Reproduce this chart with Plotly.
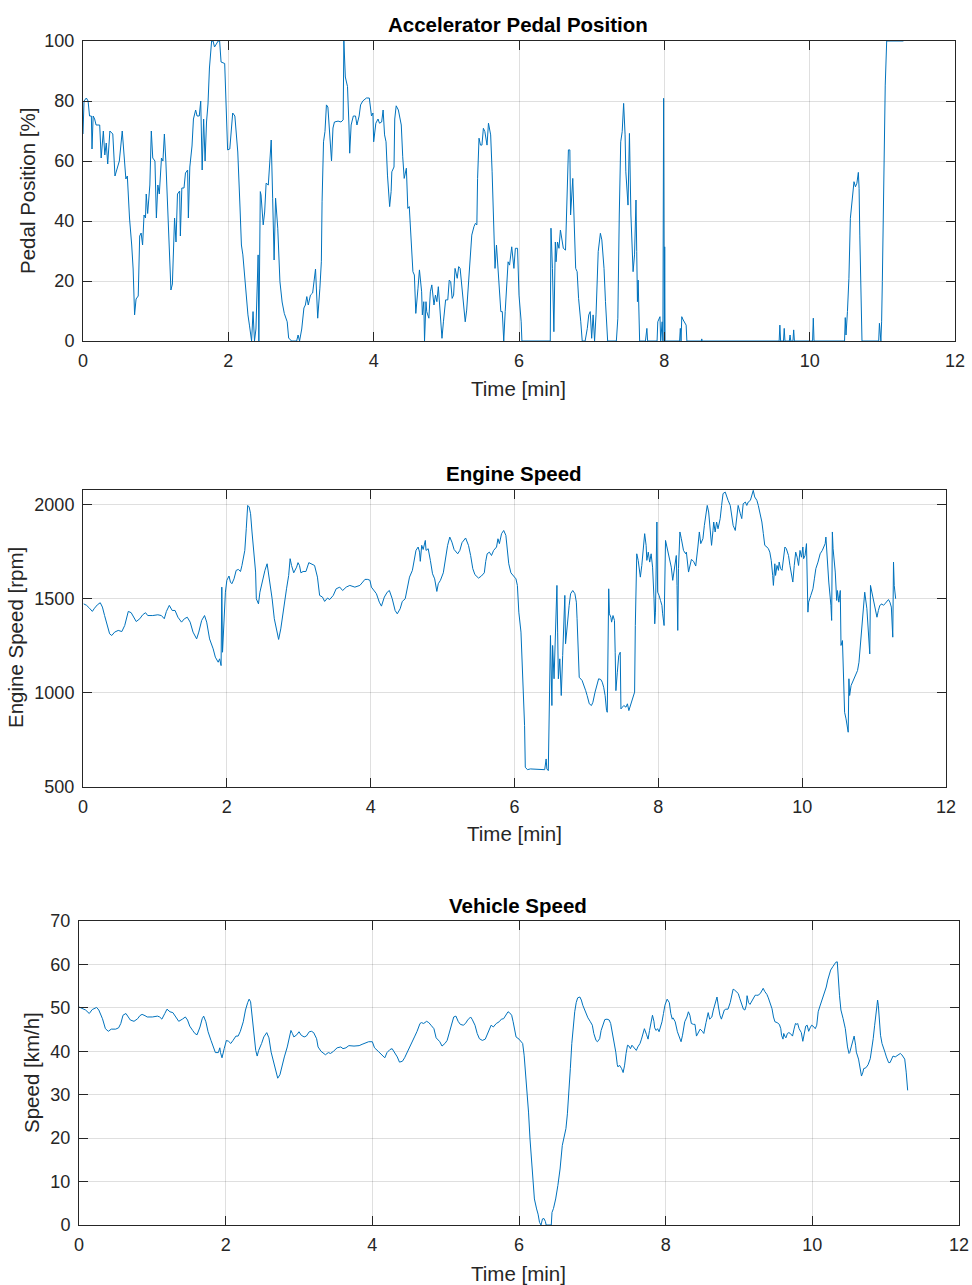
import plotly.graph_objects as go

# ---------------- data ----------------
pedal_t = [0.00,0.014,0.046,0.07,0.09,0.115,0.124,0.14,0.16,0.18,0.23,0.25,0.28,0.30,0.32,0.34,0.37,0.41,0.44,0.46,0.50,0.54,0.56,0.59,0.61,0.64,0.67,0.69,0.71,0.73,0.76,0.78,0.80,0.82,0.84,0.86,0.87,0.89,0.92,0.94,0.96,0.99,1.01,1.03,1.05,1.08,1.10,1.12,1.14,1.16,1.18,1.21,1.23,1.26,1.28,1.30,1.33,1.34,1.36,1.39,1.41,1.44,1.45,1.47,1.50,1.52,1.55,1.57,1.60,1.62,1.64,1.66,1.68,1.70,1.72,1.74,1.77,1.79,1.81,1.83,1.86,1.88,1.90,1.95,1.99,2.02,2.04,2.06,2.09,2.11,2.13,2.16,2.18,2.20,2.22,2.25,2.27,2.29,2.32,2.34,2.36,2.38,2.41,2.42,2.44,2.45,2.48,2.50,2.52,2.55,2.57,2.59,2.61,2.63,2.65,2.67,2.68,2.71,2.74,2.77,2.81,2.83,2.87,2.94,2.96,2.98,3.01,3.04,3.06,3.08,3.10,3.13,3.16,3.20,3.22,3.23,3.26,3.28,3.29,3.31,3.33,3.35,3.37,3.39,3.42,3.44,3.46,3.51,3.55,3.58,3.59,3.61,3.64,3.66,3.67,3.69,3.72,3.75,3.77,3.80,3.82,3.85,3.90,3.94,3.97,3.99,4.00,4.03,4.06,4.08,4.11,4.13,4.15,4.17,4.19,4.22,4.24,4.25,4.28,4.29,4.31,4.34,4.36,4.38,4.40,4.42,4.45,4.47,4.49,4.51,4.54,4.56,4.58,4.61,4.63,4.66,4.67,4.69,4.70,4.72,4.73,4.76,4.78,4.80,4.83,4.85,4.87,4.89,4.92,4.94,4.96,4.99,5.02,5.04,5.06,5.08,5.10,5.12,5.15,5.17,5.19,5.22,5.24,5.26,5.28,5.31,5.33,5.35,5.38,5.40,5.42,5.43,5.45,5.47,5.49,5.51,5.53,5.56,5.58,5.61,5.63,5.65,5.67,5.69,5.71,5.73,5.75,5.77,5.79,5.81,5.83,5.85,5.87,5.90,5.93,5.95,5.98,6.00,6.03,6.04,6.43,6.44,6.46,6.48,6.50,6.51,6.53,6.55,6.57,6.61,6.64,6.66,6.68,6.70,6.71,6.74,6.76,6.78,6.80,6.82,6.85,6.87,6.91,6.94,6.96,6.98,7.00,7.02,7.04,7.06,7.09,7.12,7.14,7.17,7.19,7.21,7.22,7.34,7.36,7.38,7.40,7.42,7.44,7.46,7.47,7.50,7.51,7.52,7.54,7.57,7.59,7.61,7.62,7.63,7.64,7.66,7.74,7.76,7.77,7.90,7.91,7.94,7.95,7.97,7.98,7.99,8.00,8.005,8.01,8.21,8.22,8.23,8.24,8.26,8.28,8.30,8.31,8.51,8.515,8.52,9.58,9.59,9.60,9.64,9.65,9.66,9.72,9.73,9.74,9.77,9.78,9.79,10.04,10.05,10.06,10.48,10.49,10.50,10.52,10.54,10.56,10.58,10.59,10.61,10.63,10.65,10.67,10.68,10.69,10.71,10.72,10.95,10.96,10.98,10.99,11.00,11.02,11.04,11.06,11.29]
pedal_v = [69,80,81,80,75,75,64,75,74,72,72,61,70,62,66,59,70,69,55,57,60,70,63,54,55,41,32,24,8.7,14,15,35,36,32,42,41,49,42.5,52,70,61,60,41,52,49,61,60,69,60,49,39,17,19,41,33,49,50,35,51,51,56,57,41,58,65,74,77,75,75,80,57,74,60,73,79,91,100,100,98,98.7,100,100,93,92.5,63.7,64,70,76,75,68.7,63,45,32,28.7,22,15,8.7,5.3,0,9.8,0,4,28.7,0,49.8,48.7,38.7,43,52.6,52,61.4,67,47.6,27,47.6,42,37.6,19.8,13,9.2,6.4,1,0,0,2,0,4,11,12,14.8,12,15.3,16,24,15.3,7.6,17.6,26.4,46.4,66.4,69.8,78.7,78,71,60,71,73,73.3,73,73.7,100,88,84.8,72,62.6,72,75,75,72,75,78.7,80,81,81,75,76,66.4,72.6,74,72.6,73,77,68.7,66.4,55.3,44.8,49.8,56.4,58,74,78.4,77,73.7,72,61.4,54.2,57.6,44.2,44.8,35.3,23.1,22,9.2,17.6,23.7,16.4,8.7,13.1,0,13.1,9.8,7.6,16.4,18.7,12,15.3,13.1,18.1,7,0.9,6.4,13.7,13.7,20.3,19.8,14.2,15.3,24.2,20.9,24.8,24.2,15.3,9.8,6.4,10.3,22,27.6,35.3,38.1,39.2,38.7,54.2,67.6,65.3,65.3,70.9,69.8,65.3,72.6,68.7,56.4,43.1,24.2,32,24.2,14.2,9.8,9.8,0,9.8,20.9,26.4,25.3,31.4,24.2,30.9,30.9,15.3,6.4,0,0,37.6,24.2,3.1,33,26.4,33,30.9,37,30.9,30.3,46.4,63.7,63.7,42,54.2,39.8,24.2,23.1,14.2,6.4,0,0,4.2,8.7,9.8,0.9,8.7,0,8.7,29.8,35.9,33.7,24.2,13.1,5.3,0,0,7.6,42,66.4,69.8,79.2,68.7,56.4,45.3,57.6,69.2,42,23.1,28.7,47,29.8,13.1,20.3,0,0,4.2,0,0,6.4,8.1,0,6.4,0,80.9,0,31.4,0,0,4.2,0,8.1,7,5.9,5.3,0,0,0.7,0,0,5.3,0,0,4.2,0,0,2,0,0,3.7,0,0,7.6,0,0,7.8,2,9.8,20.9,40.9,45.3,48.1,53.1,51.4,52.6,56.2,50.9,35.3,13.1,0,0,5.9,0,6.4,19.8,63.1,85.3,100,100]

engine_t = [0.01,0.05,0.09,0.13,0.16,0.20,0.24,0.27,0.30,0.34,0.37,0.40,0.44,0.49,0.54,0.58,0.61,0.63,0.67,0.71,0.74,0.79,0.83,0.87,0.90,0.97,1.04,1.09,1.13,1.16,1.20,1.24,1.28,1.32,1.37,1.41,1.45,1.49,1.53,1.58,1.61,1.65,1.69,1.72,1.76,1.81,1.84,1.88,1.90,1.92,1.93,1.94,1.96,1.98,2.00,2.03,2.05,2.07,2.10,2.13,2.16,2.19,2.21,2.25,2.27,2.29,2.31,2.33,2.35,2.37,2.40,2.41,2.44,2.46,2.49,2.53,2.56,2.59,2.63,2.66,2.70,2.72,2.75,2.78,2.80,2.83,2.86,2.88,2.90,2.93,2.97,2.99,3.01,3.03,3.06,3.10,3.14,3.17,3.22,3.26,3.29,3.33,3.36,3.40,3.43,3.48,3.52,3.57,3.61,3.66,3.71,3.78,3.85,3.89,3.92,3.96,3.99,4.01,4.05,4.08,4.12,4.15,4.19,4.23,4.26,4.30,4.34,4.37,4.41,4.44,4.48,4.51,4.54,4.58,4.61,4.63,4.66,4.68,4.69,4.71,4.73,4.76,4.77,4.80,4.83,4.86,4.89,4.92,4.94,4.97,5.01,5.04,5.07,5.10,5.13,5.16,5.21,5.24,5.27,5.32,5.36,5.39,5.42,5.45,5.50,5.54,5.58,5.60,5.62,5.65,5.68,5.71,5.75,5.77,5.79,5.82,5.85,5.88,5.90,5.92,5.95,5.98,6.02,6.04,6.06,6.09,6.10,6.12,6.14,6.15,6.18,6.22,6.29,6.36,6.42,6.44,6.45,6.47,6.48,6.49,6.50,6.52,6.53,6.55,6.57,6.59,6.60,6.61,6.63,6.65,6.67,6.69,6.70,6.71,6.73,6.76,6.78,6.81,6.84,6.86,6.87,6.89,6.90,6.94,6.96,6.99,7.01,7.04,7.07,7.09,7.12,7.15,7.17,7.20,7.22,7.24,7.26,7.28,7.29,7.31,7.32,7.34,7.35,7.37,7.39,7.40,7.41,7.43,7.45,7.47,7.48,7.50,7.52,7.55,7.57,7.59,7.61,7.64,7.66,7.67,7.68,7.70,7.72,7.75,7.77,7.79,7.81,7.83,7.84,7.86,7.88,7.90,7.92,7.94,7.95,7.96,7.98,7.99,8.01,8.03,8.05,8.06,8.08,8.10,8.15,8.18,8.20,8.22,8.25,8.26,8.27,8.28,8.30,8.32,8.35,8.38,8.39,8.42,8.44,8.46,8.49,8.52,8.55,8.57,8.59,8.62,8.64,8.66,8.68,8.70,8.72,8.74,8.76,8.77,8.79,8.81,8.83,8.86,8.88,8.90,8.93,8.95,8.97,9.00,9.02,9.04,9.07,9.09,9.11,9.14,9.16,9.18,9.21,9.23,9.25,9.28,9.30,9.32,9.34,9.37,9.39,9.41,9.44,9.46,9.48,9.51,9.53,9.55,9.57,9.59,9.60,9.62,9.63,9.65,9.67,9.68,9.70,9.72,9.74,9.76,9.78,9.81,9.83,9.85,9.87,9.89,9.91,9.93,9.95,9.97,9.99,10.01,10.02,10.04,10.06,10.08,10.09,10.12,10.15,10.17,10.19,10.22,10.25,10.28,10.30,10.32,10.33,10.35,10.37,10.40,10.41,10.42,10.43,10.46,10.48,10.49,10.51,10.53,10.54,10.56,10.57,10.59,10.61,10.63,10.64,10.65,10.66,10.68,10.70,10.72,10.74,10.77,10.79,10.81,10.84,10.86,10.87,10.90,10.92,10.94,10.95,10.97,10.99,11.01,11.04,11.06,11.08,11.11,11.13,11.15,11.18,11.20,11.22,11.24,11.26,11.27,11.28,11.30]
engine_v = [1473,1465,1450,1433,1450,1468,1479,1456,1411,1358,1314,1305,1323,1332,1326,1358,1402,1433,1426,1394,1379,1394,1415,1426,1411,1411,1415,1411,1394,1433,1465,1438,1438,1402,1376,1394,1402,1376,1323,1287,1323,1385,1411,1376,1287,1234,1190,1163,1181,1145,1562,1216,1429,1535,1598,1621,1589,1580,1606,1651,1656,1645,1677,1757,1872,1996,1988,1952,1855,1748,1642,1500,1473,1535,1589,1651,1686,1615,1500,1394,1305,1284,1340,1429,1482,1553,1624,1713,1677,1638,1668,1692,1677,1638,1645,1645,1692,1686,1677,1615,1518,1509,1486,1504,1496,1518,1553,1562,1544,1562,1571,1562,1571,1589,1603,1603,1598,1562,1544,1527,1482,1461,1509,1535,1544,1500,1438,1420,1447,1486,1500,1553,1615,1651,1704,1757,1775,1748,1699,1784,1762,1810,1757,1766,1704,1633,1606,1539,1580,1598,1638,1713,1784,1828,1801,1762,1739,1757,1798,1823,1784,1730,1660,1628,1610,1621,1638,1699,1739,1748,1730,1757,1775,1819,1793,1846,1863,1837,1775,1686,1638,1624,1606,1571,1429,1323,1234,1075,826,605,592,596,596,596,592,649,596,587,862,1039,1305,933,1252,1075,1358,1571,1323,1075,1181,986,1199,1394,1518,1261,1358,1465,1527,1544,1527,1482,1394,1110,1083,1066,1048,1012,986,942,933,950,1004,1057,1075,1071,1057,1030,986,906,897,1553,1420,1402,1376,1411,1385,1216,1012,1110,1199,1216,915,924,933,924,942,906,933,968,1004,1004,1358,1739,1704,1615,1677,1766,1846,1784,1704,1748,1695,1739,1668,1500,1367,1429,1908,1535,1518,1491,1465,1420,1358,1810,1730,1668,1598,1660,1730,1571,1332,1660,1855,1819,1757,1739,1748,1642,1677,1709,1699,1674,1775,1855,1793,1819,1890,1934,1996,1961,1855,1784,1863,1908,1855,1908,1872,1926,1996,2059,2067,2041,2023,1996,1934,1890,1863,1926,1996,1952,1926,2005,2014,1996,2014,2023,2050,2076,2041,2023,1996,1961,1908,1846,1784,1775,1766,1748,1704,1624,1571,1686,1624,1677,1651,1695,1660,1651,1713,1775,1766,1730,1677,1624,1589,1677,1748,1721,1677,1757,1721,1775,1713,1730,1793,1429,1482,1518,1553,1606,1660,1695,1739,1757,1775,1793,1828,1677,1589,1465,1385,1855,1766,1642,1491,1544,1482,1544,1252,1278,1110,897,862,826,791,1075,986,1039,1057,1075,1092,1119,1163,1252,1358,1465,1535,1447,1340,1207,1571,1535,1482,1465,1402,1438,1465,1473,1465,1473,1486,1496,1482,1456,1296,1695,1571,1500]

speed_t = [0.0,0.045,0.09,0.14,0.18,0.24,0.27,0.32,0.36,0.40,0.44,0.50,0.54,0.57,0.60,0.64,0.67,0.70,0.75,0.80,0.83,0.86,0.90,0.93,1.00,1.07,1.10,1.13,1.17,1.20,1.24,1.28,1.32,1.36,1.41,1.45,1.48,1.51,1.55,1.58,1.61,1.65,1.68,1.70,1.73,1.76,1.80,1.83,1.86,1.90,1.92,1.93,1.95,1.98,2.01,2.04,2.07,2.10,2.14,2.17,2.20,2.24,2.27,2.30,2.32,2.34,2.36,2.39,2.41,2.43,2.45,2.49,2.52,2.56,2.59,2.62,2.66,2.69,2.71,2.74,2.77,2.80,2.84,2.86,2.89,2.91,2.93,2.97,3.00,3.03,3.07,3.10,3.14,3.17,3.20,3.24,3.26,3.30,3.33,3.36,3.40,3.43,3.47,3.52,3.57,3.60,3.64,3.68,3.75,3.82,3.86,3.91,3.95,4.0,4.03,4.08,4.11,4.15,4.17,4.20,4.24,4.27,4.30,4.34,4.37,4.41,4.44,4.47,4.51,4.55,4.58,4.61,4.65,4.67,4.70,4.74,4.77,4.80,4.84,4.87,4.92,4.95,4.99,5.02,5.05,5.08,5.11,5.14,5.17,5.20,5.24,5.27,5.30,5.34,5.36,5.40,5.43,5.46,5.50,5.54,5.56,5.59,5.62,5.65,5.69,5.73,5.76,5.79,5.82,5.85,5.87,5.90,5.92,5.94,5.96,6.00,6.03,6.05,6.07,6.09,6.11,6.13,6.15,6.17,6.19,6.21,6.24,6.26,6.28,6.30,6.32,6.34,6.36,6.37,6.44,6.45,6.47,6.50,6.53,6.56,6.59,6.61,6.64,6.66,6.68,6.70,6.72,6.74,6.76,6.78,6.80,6.83,6.85,6.87,6.89,6.91,6.94,6.97,7.00,7.02,7.05,7.07,7.10,7.12,7.15,7.17,7.20,7.23,7.25,7.27,7.30,7.32,7.34,7.35,7.37,7.40,7.42,7.44,7.46,7.48,7.50,7.52,7.54,7.55,7.58,7.60,7.62,7.65,7.67,7.69,7.71,7.74,7.76,7.78,7.80,7.82,7.84,7.85,7.87,7.89,7.91,7.95,7.97,7.99,8.02,8.05,8.07,8.09,8.10,8.13,8.16,8.19,8.21,8.23,8.26,8.29,8.31,8.33,8.35,8.38,8.40,8.42,8.45,8.47,8.50,8.52,8.55,8.58,8.60,8.63,8.65,8.67,8.70,8.72,8.74,8.76,8.78,8.80,8.82,8.85,8.88,8.90,8.92,8.94,8.97,8.99,9.01,9.04,9.06,9.08,9.10,9.11,9.13,9.15,9.17,9.20,9.22,9.24,9.26,9.29,9.31,9.33,9.35,9.38,9.40,9.42,9.45,9.47,9.49,9.52,9.55,9.57,9.58,9.60,9.61,9.63,9.64,9.66,9.68,9.70,9.73,9.75,9.77,9.79,9.80,9.82,9.85,9.87,9.89,9.91,9.93,9.95,9.97,9.99,10.01,10.04,10.06,10.08,10.10,10.12,10.14,10.16,10.19,10.21,10.23,10.25,10.28,10.30,10.32,10.34,10.35,10.37,10.39,10.40,10.42,10.45,10.46,10.48,10.50,10.51,10.53,10.55,10.57,10.59,10.60,10.63,10.65,10.67,10.69,10.70,10.73,10.76,10.79,10.81,10.83,10.85,10.87,10.89,10.90,10.91,10.93,10.95,10.97,10.99,11.01,11.04,11.06,11.08,11.10,11.13,11.15,11.17,11.20,11.22,11.24,11.26,11.28,11.30]
speed_v = [50.2,49.8,49.5,48.7,49.6,50.1,49.5,47.5,45.2,44.6,45.1,45.1,45.4,46.4,48.3,48.7,47.9,47.2,46.9,47.5,48.2,48.5,48.2,47.9,47.9,48.1,47.9,47.4,48.7,49.7,49.1,48.9,47.9,46.9,47.4,47.9,47.2,45.8,44.8,44.1,43.8,45.6,47.5,48.1,46.8,44.5,42.5,40.8,39.7,39.7,40.8,39.7,38.5,40.6,42.5,42.3,41.8,42.5,43.5,43.5,44.6,46.8,49.5,51.2,52.0,51.4,48.3,43.7,40.2,38.9,40.2,41.8,43.3,44.3,43.1,39.8,36.8,34.6,33.8,34.6,36.8,38.7,41.0,42.9,44.8,44.1,43.3,43.8,44.5,43.7,43.3,43.5,44.5,44.6,44.3,42.9,41.0,40.0,39.7,39.2,39.7,39.5,40.0,40.8,41.0,40.6,40.8,41.3,41.2,41.3,41.6,42.0,42.2,42.2,40.8,40.0,39.5,38.7,38.5,39.7,40.4,40.6,39.8,38.7,37.5,37.7,38.5,39.5,40.8,42.3,43.5,44.6,46.4,46.6,46.4,46.9,46.6,46.0,45.2,43.1,42.2,41.2,41.8,42.5,44.5,46.4,47.9,48.1,46.9,46.2,46.0,46.4,47.2,47.9,47.4,46.0,44.1,42.9,42.5,42.8,43.5,44.8,46.0,45.6,46.4,46.8,47.4,47.5,48.3,49.1,48.9,48.3,46.8,44.5,43.3,42.8,42.3,41.8,39.1,34.5,31.4,26.0,19.8,14.5,9.8,6.0,3.7,2.5,0.6,0,1.4,1.5,0.8,0,0,2.9,3.8,6.0,9.1,12.9,18.3,20.0,22.2,25.6,29.8,36.0,41.8,46.0,49.1,51.2,52.3,52.5,51.8,50.6,49.7,48.7,47.7,46.9,46.0,44.1,42.5,42.2,42.9,44.8,46.4,47.3,47.4,47.2,46.4,44.5,42.5,39.8,36.9,36.4,36.8,36.0,35.1,36.8,39.5,41.4,41.2,40.6,41.4,41.2,40.6,40.2,41.0,41.8,42.8,44.1,45.2,43.8,42.8,44.8,46.8,48.3,46.9,45.4,44.8,45.2,44.5,46.8,48.7,50.6,52.0,51.2,48.7,47.4,47.7,46.8,44.5,42.9,42.2,43.7,46.8,47.9,49.1,48.3,46.4,46.2,46.2,43.5,44.3,45.1,44.6,44.1,46.6,48.9,47.4,47.9,49.5,51.0,52.5,50.2,48.3,47.4,48.7,49.5,49.7,49.7,51.2,53.1,54.3,54.1,53.7,53.3,52.2,50.6,49.7,49.5,50.6,52.8,51.2,50.8,51.5,52.3,52.9,52.9,52.9,53.3,54.1,54.5,53.8,53.1,52.3,51.2,49.8,47.9,46.8,46.6,46.2,45.2,43.7,42.8,44.1,43.3,43.1,44.1,44.3,44.1,43.5,45.1,46.4,46.2,46.4,45.2,44.3,42.3,43.7,45.8,46.0,44.6,45.4,46.0,45.8,45.2,46.0,49.1,50.2,51.2,52.2,53.5,54.8,56.4,57.7,58.7,59.5,60.0,60.5,60.6,57.5,52.9,49.5,48.9,47.5,45.2,43.3,41.0,39.5,39.7,41.0,42.5,43.5,41.4,39.8,38.2,36.0,34.3,35.2,36.0,36.2,36.9,38.3,40.2,42.9,46.0,49.1,51.8,50.6,47.2,43.7,41.8,41.0,39.8,38.7,37.4,37.4,38.3,38.9,38.7,38.9,39.2,39.5,39.2,38.7,38.2,35.2,31.0]

x_ticks = [0, 2, 4, 6, 8, 10, 12]
pedal_ticks = [0, 20, 40, 60, 80, 100]
engine_ticks = [500, 1000, 1500, 2000]
speed_ticks = [0, 10, 20, 30, 40, 50, 60, 70]

titles = ["Accelerator Pedal Position", "Engine Speed", "Vehicle Speed"]
ylabels = ["Pedal Position [%]", "Engine Speed [rpm]", "Speed [km/h]"]
xlabel = "Time [min]"

# ---------------- layout helpers ----------------
W, H = 972, 1285
FONT = "Liberation Sans, Arial, Helvetica, sans-serif"
LINE = "#0072BD"
AX = "#262626"

def fx(p):
    return p / W

def fy(p):
    return 1 - p / H

fig = go.Figure()
fig.add_trace(go.Scatter(x=pedal_t, y=pedal_v, xaxis="x", yaxis="y", mode="lines",
                         line=dict(color=LINE, width=1), hoverinfo="skip"))
fig.add_trace(go.Scatter(x=engine_t, y=engine_v, xaxis="x2", yaxis="y2", mode="lines",
                         line=dict(color=LINE, width=1), hoverinfo="skip"))
fig.add_trace(go.Scatter(x=speed_t, y=speed_v, xaxis="x3", yaxis="y3", mode="lines",
                         line=dict(color=LINE, width=1), hoverinfo="skip"))

common = dict(showline=True, mirror="ticks", linecolor=AX, linewidth=1,
              ticks="inside", ticklen=9, tickcolor=AX, tickwidth=1,
              showgrid=True, gridcolor="rgba(38,38,38,0.15)", gridwidth=1,
              zeroline=False, tickfont=dict(family=FONT, size=18, color=AX),
              automargin=False, fixedrange=True)

# panel pixel boxes: (left, right, top, bottom)
boxes = [(83, 955, 41, 341), (83, 946, 490, 787), (79, 959, 921, 1225)]
yranges = [[0, 100], [500, 2078], [0, 70]]
yticks = [pedal_ticks, engine_ticks, speed_ticks]

layout = dict(width=W, height=H, margin=dict(l=0, r=0, t=0, b=0),
              paper_bgcolor="white", plot_bgcolor="white", showlegend=False,
              font=dict(family=FONT, color=AX))
for i, (l, r, t, b) in enumerate(boxes):
    sfx = "" if i == 0 else str(i + 1)
    layout["xaxis" + sfx] = dict(common, domain=[fx(l), fx(r)], range=[0, 12],
                                 tickvals=x_ticks, anchor="y" + sfx, ticklabelstandoff=3)
    layout["yaxis" + sfx] = dict(common, domain=[fy(b), fy(t)], range=yranges[i],
                                 tickvals=yticks[i], anchor="x" + sfx, ticklabelstandoff=4)
fig.update_layout(**layout)

ann = []
title_pos = [(518, 24), (514, 473), (518, 905)]
xlab_pos = [(518, 388), (514, 833), (518, 1273)]
ylab_pos = [(27, 191), (15, 638), (31, 1073)]
for i in range(3):
    ann.append(dict(text="<b>%s</b>" % titles[i], x=fx(title_pos[i][0]), y=fy(title_pos[i][1]),
                    xref="paper", yref="paper", showarrow=False, xanchor="center", yanchor="middle",
                    font=dict(family=FONT, size=20.5, color="black")))
    ann.append(dict(text=xlabel, x=fx(xlab_pos[i][0]), y=fy(xlab_pos[i][1]),
                    xref="paper", yref="paper", showarrow=False, xanchor="center", yanchor="middle",
                    font=dict(family=FONT, size=20.5, color=AX)))
    ann.append(dict(text=ylabels[i], x=fx(ylab_pos[i][0]), y=fy(ylab_pos[i][1]), textangle=-90,
                    xref="paper", yref="paper", showarrow=False, xanchor="center", yanchor="middle",
                    font=dict(family=FONT, size=20.5, color=AX)))
fig.update_layout(annotations=ann)

# remove the browser's default 8px body margin so the figure fills the window exactly
fig.write_html("out.html",
               config={"displayModeBar": False, "staticPlot": True},
               post_script="document.body.style.margin='0px';document.body.style.overflow='hidden';")
